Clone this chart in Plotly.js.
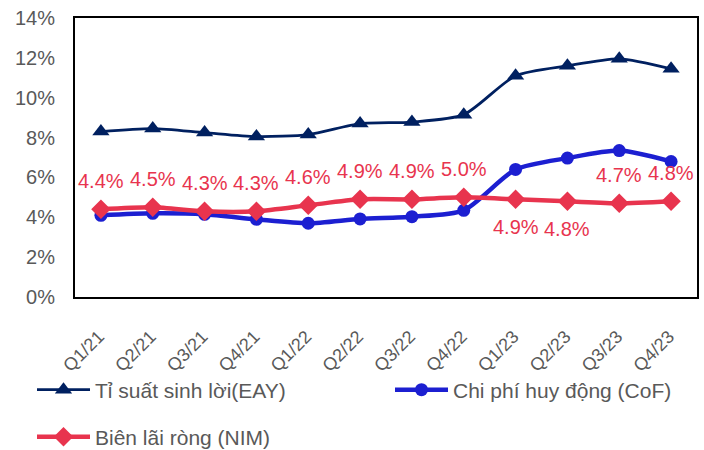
<!DOCTYPE html>
<html><head><meta charset="utf-8">
<script src="https://cdn.plot.ly/plotly-3.0.1.min.js"></script>
<style>body{margin:0;background:#fff}#c{width:704px;height:450px}</style>
</head><body><div id="c"></div>
<script>
const categories = ["Q1/21","Q2/21","Q3/21","Q4/21","Q1/22","Q2/22","Q3/22","Q4/22","Q1/23","Q2/23","Q3/23","Q4/23"];
const eay = [8.3, 8.45, 8.25, 8.05, 8.15, 8.7, 8.78, 9.15, 11.1, 11.6, 11.95, 11.45];
const cof = [4.1, 4.2, 4.15, 3.9, 3.7, 3.92, 4.03, 4.35, 6.4, 6.97, 7.35, 6.8];
const nim = [4.4, 4.5, 4.3, 4.3, 4.6, 4.9, 4.9, 5.0, 4.9, 4.8, 4.7, 4.8];
const nimLabels = ["4.4%","4.5%","4.3%","4.3%","4.6%","4.9%","4.9%","5.0%","4.9%","4.8%","4.7%","4.8%"];
const nimLabelAbove = [true,true,true,true,true,true,true,true,false,false,true,true];
const names = ["Tỉ suất sinh lời(EAY)","Chi phí huy động (CoF)","Biên lãi ròng (NIM)"];

const font = "Arial, 'Liberation Sans', sans-serif";
const red = "#e8344e";
const traces = [
  {x: categories, y: eay, name: names[0], type: "scatter", mode: "lines+markers",
   line: {color: "#002060", width: 2.8, shape: "spline", smoothing: 0.7},
   marker: {symbol: "triangle-up", size: 15, color: "#002060"}, legend: "legend"},
  {x: categories, y: cof, name: names[1], type: "scatter", mode: "lines+markers",
   line: {color: "#1c1fd1", width: 4.5, shape: "spline", smoothing: 0.7},
   marker: {symbol: "circle", size: 13, color: "#1c1fd1"}, legend: "legend3"},
  {x: categories, y: nim, name: names[2], type: "scatter", mode: "lines+markers",
   line: {color: red, width: 4.5, shape: "spline", smoothing: 0.7},
   marker: {symbol: "diamond", size: 15, color: red}, legend: "legend2"}
];
const annotations = categories.map((c, i) => ({
  x: c, y: nim[i], xref: "x", yref: "y", text: nimLabels[i], showarrow: false,
  yshift: nimLabelAbove[i] ? 28 : -28, yanchor: "middle", xanchor: "center",
  font: {family: font, size: 20, color: red}
}));
const legendFont = {family: font, size: 21, color: "#595959"};
const legendBase = {orientation: "h", xref: "container", yref: "container",
  xanchor: "left", yanchor: "middle", itemwidth: 53, font: legendFont, bgcolor: "rgba(0,0,0,0)"};
const layout = {
  width: 704, height: 450,
  margin: {l: 75, r: 7, t: 18, b: 153},
  paper_bgcolor: "#fff", plot_bgcolor: "#fff",
  font: {family: font, color: "#595959", size: 20},
  showlegend: true,
  annotations: annotations,
  xaxis: {type: "category", range: [-0.5, 11.5], showgrid: false, zeroline: false,
    showline: true, linecolor: "#000", linewidth: 2, mirror: true,
    ticks: "", tickangle: -45, ticklabelstandoff: 20, ticklabelshift: -2,
    tickfont: {family: font, size: 18, color: "#595959"}},
  yaxis: {range: [0, 14], dtick: 2, ticksuffix: "%", showgrid: false, zeroline: false,
    showline: true, linecolor: "#000", linewidth: 2, mirror: true,
    ticks: "", ticklabelstandoff: 14, tickfont: {family: font, size: 20, color: "#595959"}},
  legend: Object.assign({}, legendBase, {x: 32/704, y: 1 - 390/450}),
  legend3: Object.assign({}, legendBase, {x: 390/704, y: 1 - 390/450}),
  legend2: Object.assign({}, legendBase, {x: 32/704, y: 1 - 437/450})
};
Plotly.newPlot("c", traces, layout, {displayModeBar: false});
</script></body></html>
